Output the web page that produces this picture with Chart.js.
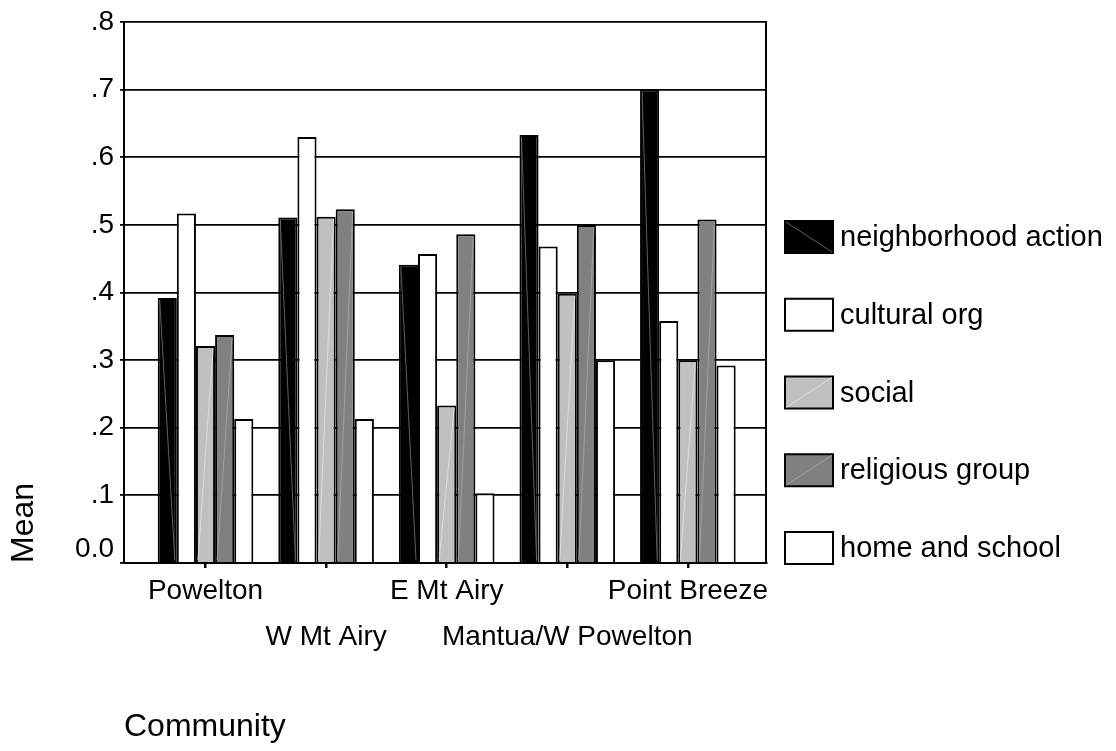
<!DOCTYPE html>
<html>
<head>
<meta charset="utf-8">
<script src="https://cdn.jsdelivr.net/npm/chart.js@4/dist/chart.umd.min.js"></script>
<style>
  html, body { margin: 0; padding: 0; background: #fff; }
  #wrap { width: 1116px; height: 751px; }
</style>
</head>
<body>
<div id="wrap"><canvas id="community-mean-bar-chart"></canvas></div>
<script>
const communities = ["Powelton", "W Mt Airy", "E Mt Airy", "Mantua/W Powelton", "Point Breeze"]
const seriesNames = ["neighborhood action", "cultural org", "social", "religious group", "home and school"]
const seriesColors = ["#000000", "#ffffff", "#c0c0c0", "#808080", "#ffffff"]

const neighborhoodAction = [0.392, 0.511, 0.441, 0.633, 0.700]
const culturalOrg = [0.517, 0.630, 0.457, 0.468, 0.358]
const social = [0.321, 0.512, 0.233, 0.398, 0.300]
const religiousGroup = [0.337, 0.523, 0.486, 0.500, 0.508]
const homeAndSchool = [0.213, 0.213, 0.103, 0.300, 0.292]

const yTickValues = [0, 0.1, 0.2, 0.3, 0.4, 0.5, 0.6, 0.7, 0.8]

const seriesValues = [neighborhoodAction, culturalOrg, social, religiousGroup, homeAndSchool]

Chart.defaults.font.family = "'Liberation Sans', Arial, sans-serif"
Chart.defaults.color = "#000"

// SPSS draws a faint diagonal through the filled bars
const diagonals = { 0: ["down", "#777"], 2: ["up", "#e4e4e4"], 3: ["up", "#a8a8a8"] }

const spssLook = {
    id: "spssLook",
    afterDatasetsDraw(chart) {
        const ctx = chart.ctx
        ctx.save()
        ctx.lineWidth = 0.8
        Object.keys(diagonals).forEach(i => {
            const [dir, color] = diagonals[i]
            ctx.strokeStyle = color
            chart.getDatasetMeta(+i).data.forEach(bar => {
                const { x, y, base, width } = bar.getProps(["x", "y", "base", "width"], true)
                const l = x - width / 2 + 2, r = x + width / 2 - 2
                ctx.beginPath()
                if (dir === "down") { ctx.moveTo(l, y + 2); ctx.lineTo(r, base - 2) }
                else { ctx.moveTo(l, base - 2); ctx.lineTo(r, y + 2) }
                ctx.stroke()
            })
        })
        ctx.restore()
    },
    afterDraw(chart) {
        // legend on the right
        const ctx = chart.ctx
        ctx.save()
        ctx.font = "29px 'Liberation Sans', Arial, sans-serif"
        ctx.textBaseline = "middle"
        chart.data.datasets.forEach((ds, i) => {
            const cy = 237 + i * 77.75
            ctx.fillStyle = ds.backgroundColor
            ctx.fillRect(785, cy - 16, 48, 32)
            ctx.strokeStyle = "#000"
            ctx.lineWidth = 2
            ctx.strokeRect(785, cy - 16, 48, 32)
            if (diagonals[i]) {
                const [dir, color] = diagonals[i]
                ctx.strokeStyle = color
                ctx.lineWidth = 0.8
                ctx.beginPath()
                if (dir === "down") { ctx.moveTo(786, cy - 15); ctx.lineTo(832, cy + 15) }
                else { ctx.moveTo(786, cy + 15); ctx.lineTo(832, cy - 15) }
                ctx.stroke()
            }
            ctx.fillStyle = "#000"
            ctx.fillText(ds.label, 840, cy + 1)
        })
        ctx.restore()
    }
}

const dataObj = {
    datasets: seriesNames.map((name, i) => ({
        label: name,
        data: seriesValues[i].map((v, j) => ({ x: j, y: v })),
        backgroundColor: seriesColors[i],
        borderColor: "#000",
        borderWidth: 2,
        categoryPercentage: 0.793,
        barPercentage: 1
    }))
}

new Chart("community-mean-bar-chart", {
    type: "bar",
    data: dataObj,
    plugins: [spssLook],
    options: {
        responsive: true,
        maintainAspectRatio: false,
        animation: false,
        layout: { padding: { top: 22, right: 350, bottom: 0, left: 0 } },
        plugins: {
            legend: { display: false },
            tooltip: { enabled: false }
        },
        scales: {
            x: {
                type: "linear",
                offset: false,
                min: -0.676,
                max: 4.648,
                afterBuildTicks: scale => { scale.ticks = communities.map((c, i) => ({ value: i })) },
                afterFit: scale => { scale.height = 188 },
                ticks: {
                    autoSkip: false,
                    maxRotation: 0,
                    minRotation: 0,
                    padding: 0,
                    font: { size: 28, lineHeight: 46 / 28 },
                    callback: value => {
                        const i = Math.round(value)
                        return i % 2 ? ["", communities[i]] : communities[i]
                    }
                },
                grid: { offset: false, drawOnChartArea: false, tickLength: 5, color: "#000", lineWidth: 2.5 },
                border: { color: "#000", width: 2 },
                title: {
                    display: true,
                    text: "Community",
                    align: "start",
                    font: { size: 32 },
                    padding: { top: 0, bottom: 5 }
                }
            },
            y: {
                min: 0,
                max: 0.8,
                afterBuildTicks: scale => { scale.ticks = yTickValues.map(v => ({ value: v })) },
                afterFit: scale => { scale.width = 124 },
                ticks: {
                    padding: 6,
                    font: { size: 28, lineHeight: 27 / 28 },
                    callback: v => v === 0 ? ["0.0", ""] : v.toFixed(1).replace(/^0/, "")
                },
                grid: { color: "#000", lineWidth: 1.8, tickLength: 4 },
                border: { color: "#000", width: 2 },
                title: {
                    display: true,
                    text: "Mean",
                    align: "start",
                    font: { size: 32 },
                    padding: { top: 5, bottom: 0 }
                }
            },
            y2: {
                position: "right",
                grid: { drawOnChartArea: false, drawTicks: false },
                ticks: { display: false },
                border: { color: "#000", width: 2 }
            }
        }
    }
});
</script>
</body>
</html>
